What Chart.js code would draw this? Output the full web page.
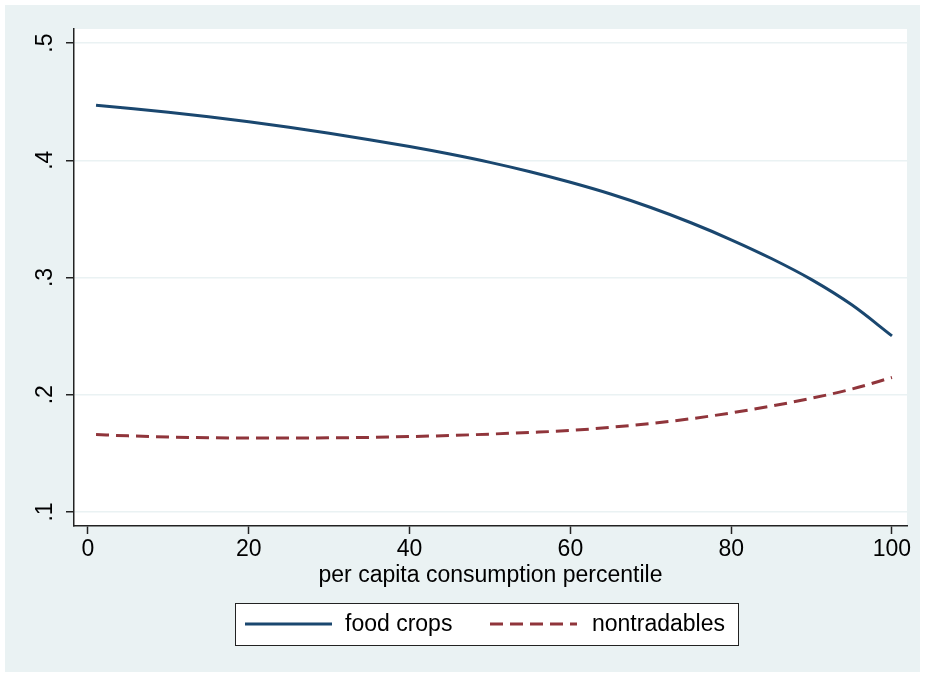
<!DOCTYPE html>
<html>
<head>
<meta charset="utf-8">
<script src="https://cdn.jsdelivr.net/npm/chart.js@4"></script>
<style>
    html, body { margin: 0; padding: 0; background: #fff; }
    #wrap { width: 925px; height: 677px; }
</style>
</head>
<body>
<div id="wrap"><canvas id="chart" width="925" height="677"></canvas></div>
<script>
// Data
const percentiles = [1, 5, 10, 15, 20, 25, 30, 35, 40, 45, 50, 55, 60, 65, 70, 75, 80, 85, 90, 95, 100];
const foodCrops = [0.4470, 0.4444, 0.4410, 0.4372, 0.4329, 0.4281, 0.4230, 0.4175, 0.4117, 0.4053, 0.3982,
    0.3902, 0.3812, 0.3712, 0.3597, 0.3467, 0.3322, 0.3162, 0.2982, 0.2767, 0.2502];
const nontradables = [0.1660, 0.1649, 0.1639, 0.1633, 0.1630, 0.1630, 0.1632, 0.1636, 0.1643, 0.1652, 0.1664,
    0.1678, 0.1695, 0.1722, 0.1755, 0.1795, 0.1845, 0.1903, 0.1970, 0.2048, 0.2147];
const seriesNames = ['food crops', 'nontradables'];
const xTicks = [0, 20, 40, 60, 80, 100];
const yTicks = [0.1, 0.2, 0.3, 0.4, 0.5];
const yTickLabels = ['.1', '.2', '.3', '.4', '.5'];
const xTitle = 'per capita consumption percentile';

const FONT = 'Liberation Sans, Arial, sans-serif';
const FONT_SIZE = 23;
const BG = '#EAF2F3';
const AXIS = '#222';
const NAVY = '#1A476F';
const MAROON = '#90353B';
const DASH = [13, 7];

// Outer background and white plot region
const backgroundPlugin = {
    id: 'background',
    beforeDraw(chart) {
        const ctx = chart.ctx;
        const a = chart.chartArea;
        ctx.save();
        ctx.fillStyle = '#fff';
        ctx.fillRect(0, 0, chart.width, chart.height);
        ctx.fillStyle = BG;
        ctx.fillRect(5, 5, chart.width - 10, chart.height - 10);
        ctx.fillStyle = '#fff';
        ctx.fillRect(a.left, a.top, a.right - a.left, a.bottom - a.top);
        ctx.restore();
    }
};

// Vertical y tick labels and the boxed legend
const decorPlugin = {
    id: 'decor',
    afterDraw(chart) {
        const ctx = chart.ctx;
        const y = chart.scales.y;
        ctx.save();
        ctx.fillStyle = '#000';
        ctx.font = FONT_SIZE + 'px ' + FONT;
        ctx.textAlign = 'center';
        ctx.textBaseline = 'middle';
        yTicks.forEach((v, i) => {
            const py = y.getPixelForValue(v);
            ctx.save();
            ctx.translate(46, py);
            ctx.rotate(-Math.PI / 2);
            ctx.fillText(yTickLabels[i], 0, 0);
            ctx.restore();
        });

        // legend box
        ctx.fillStyle = '#fff';
        ctx.fillRect(235, 603, 503, 42);
        ctx.strokeStyle = AXIS;
        ctx.lineWidth = 1;
        ctx.strokeRect(235.5, 603.5, 503, 42);

        const ly = 624;
        ctx.lineWidth = 3;
        ctx.strokeStyle = NAVY;
        ctx.beginPath();
        ctx.moveTo(245, ly);
        ctx.lineTo(332, ly);
        ctx.stroke();
        ctx.strokeStyle = MAROON;
        ctx.setLineDash(DASH);
        ctx.beginPath();
        ctx.moveTo(490, ly);
        ctx.lineTo(577, ly);
        ctx.stroke();
        ctx.setLineDash([]);

        ctx.fillStyle = '#000';
        ctx.textAlign = 'left';
        ctx.fillText(seriesNames[0], 345, ly + 1);
        ctx.fillText(seriesNames[1], 592, ly + 1);
        ctx.restore();
    }
};

const ctx = document.getElementById('chart').getContext('2d');
new Chart(ctx, {
    type: 'line',
    data: {
        datasets: [{
            label: seriesNames[0],
            data: percentiles.map((p, i) => ({ x: p, y: foodCrops[i] })),
            borderColor: NAVY,
            borderWidth: 3,
            pointRadius: 0,
            cubicInterpolationMode: 'monotone',
            fill: false
        }, {
            label: seriesNames[1],
            data: percentiles.map((p, i) => ({ x: p, y: nontradables[i] })),
            borderColor: MAROON,
            borderWidth: 3,
            borderDash: DASH,
            pointRadius: 0,
            cubicInterpolationMode: 'monotone',
            fill: false
        }]
    },
    options: {
        responsive: false,
        animation: false,
        devicePixelRatio: 1,
        layout: {
            padding: { left: 0, top: 29, right: 18, bottom: 81 }
        },
        plugins: {
            legend: { display: false },
            tooltip: { enabled: false }
        },
        scales: {
            x: {
                type: 'linear',
                min: -1.74,
                max: 101.87,
                afterBuildTicks: s => { s.ticks = xTicks.map(v => ({ value: v })); },
                afterFit: s => { s.height = 70; },
                ticks: {
                    autoSkip: false,
                    maxRotation: 0,
                    padding: 2,
                    color: '#000',
                    font: { family: FONT, size: FONT_SIZE },
                    callback: v => String(v)
                },
                grid: {
                    drawOnChartArea: false,
                    drawTicks: true,
                    tickLength: 8,
                    tickColor: AXIS,
                    tickWidth: 1.5
                },
                border: { display: true, color: AXIS, width: 1.5 },
                title: {
                    display: true,
                    text: xTitle,
                    color: '#000',
                    font: { family: FONT, size: FONT_SIZE },
                    padding: { top: 0, bottom: 7 }
                }
            },
            y: {
                type: 'linear',
                min: 0.088,
                max: 0.512,
                afterBuildTicks: s => { s.ticks = yTicks.map(v => ({ value: v })); },
                afterFit: s => { s.width = 74; },
                ticks: { display: false },
                grid: {
                    color: BG,
                    lineWidth: 1.5,
                    drawTicks: true,
                    tickLength: 8,
                    tickColor: AXIS,
                    tickWidth: 1.5
                },
                border: { display: true, color: AXIS, width: 1.5 }
            }
        }
    },
    plugins: [backgroundPlugin, decorPlugin]
});
</script>
</body>
</html>
